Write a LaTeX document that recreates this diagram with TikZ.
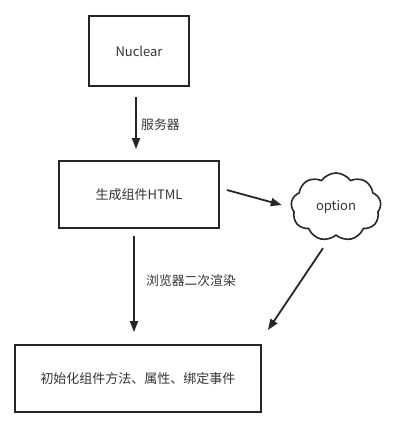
\documentclass[tikz,border=0pt]{standalone}
\usepackage{fontspec}
\setmainfont{Noto Sans CJK SC}
\usetikzlibrary{arrows.meta}
\usetikzlibrary{shapes.symbols}

\begin{document}
\begin{tikzpicture}[x=1pt,y=1pt]
    \tikzset{
      >={Triangle[length=11pt,width=8pt]},
      conn/.style={->, draw=black!85, line width=1.8pt},
      box/.style={draw=black!85, line width=1.8pt, inner sep=0pt,
        font=\fontsize{13}{15}\selectfont, text=black!80},
      puff/.style={cloud, cloud puffs=9, cloud puff arc=110, draw=black!85,
        line width=1.6pt, inner sep=0pt, aspect=1.3,
        font=\fontsize{13}{15}\selectfont, text=black!80},
      lbl/.style={font=\fontsize{12.8}{15}\selectfont, text=black!80},
    }
    \useasboundingbox (0,0) rectangle (405,429);

    \node[box, minimum width=100pt, minimum height=70pt] (nuclear) at (139,378) {Nuclear};
    \node[box, minimum width=160pt, minimum height=67pt, below of=nuclear,
      node distance=143.5pt] (gen) {生成组件HTML};
    \node[box, minimum width=246pt, minimum height=67pt, below of=gen,
      node distance=184pt, xshift=-1pt] (init) {初始化组件方法、属性、绑定事件};
    \node[puff, minimum width=90pt, minimum height=68pt, right of=gen,
      node distance=197pt, yshift=-12.5pt] (opt) {option};

    \draw[conn, shorten <=10pt, shorten >=11pt]
      ([xshift=-3pt]nuclear.south) -- node[lbl, right=1pt, pos=0.52]{服务器} ([xshift=-3pt]gen.north);
    \draw[conn, shorten <=7pt, shorten >=12pt]
      ([xshift=-5pt]gen.south) -- node[lbl, right=8pt, pos=0.45]{浏览器二次渲染} ([xshift=-4pt]init.north);
    \draw[conn] ([xshift=7pt, yshift=4.5pt]gen.east) -- ([xshift=-9pt, yshift=2pt]opt.west);
    \draw[conn] ([xshift=-13pt, yshift=-12pt]opt.south) -- ([xshift=6pt, yshift=14pt]init.north east);
  \end{tikzpicture}
\end{document}
